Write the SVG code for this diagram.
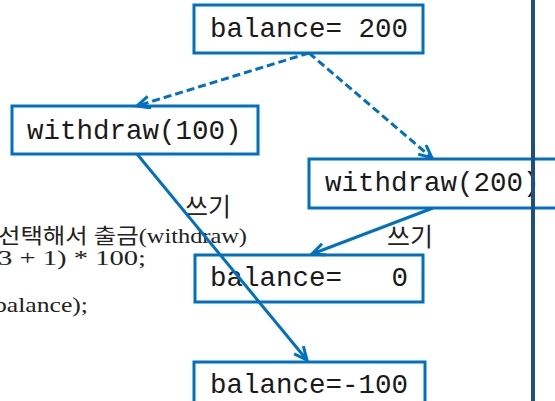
<svg xmlns="http://www.w3.org/2000/svg" width="555" height="401" viewBox="0 0 555 401">
<style>
.box{fill:#fff;stroke:#0070C0;stroke-width:3}
.mono{font-family:"Liberation Mono","Courier New",monospace;font-size:27.5px;fill:#1a1a1a;white-space:pre}
.bg{font-family:"Liberation Serif","Noto Sans CJK KR",serif;font-size:21px;fill:#222}
.lbl{font-family:"Liberation Serif","Noto Sans CJK KR",serif;font-size:25px;fill:#222}
.c{fill:none;stroke:#0070C0;stroke-width:3}
.d{stroke-dasharray:8 4}
</style>
<defs>
<marker id="ah" markerUnits="userSpaceOnUse" markerWidth="18" markerHeight="18" refX="14" refY="7" orient="auto">
<path d="M1,1 L14,7 L1,13" fill="none" stroke="#0070C0" stroke-width="3"/>
</marker>
</defs>
<rect width="555" height="401" fill="#fff"/>
<g id="background-text">
<text class="bg" x="-2" y="243" textLength="249" lengthAdjust="spacingAndGlyphs">선택해서 출금(withdraw)</text>
<text class="bg" x="-2" y="265" textLength="148" lengthAdjust="spacingAndGlyphs">3 + 1) * 100;</text>
<text class="bg" x="-6" y="312" textLength="94" lengthAdjust="spacingAndGlyphs">balance);</text>
</g>
<g id="n-balance200"><rect class="box" x="194" y="5" width="229" height="48"/><text class="mono" x="210" y="37">balance= 200</text></g>
<g id="n-withdraw100"><rect class="box" x="12" y="106" width="246" height="48"/><text class="mono" x="27" y="139">withdraw(100)</text></g>
<g id="n-withdraw200"><rect class="box" x="309" y="159" width="260" height="49"/><text class="mono" x="325" y="191">withdraw(200)</text></g>
<g id="n-balance0"><rect class="box" x="195" y="255" width="228" height="47"/><text class="mono" x="210" y="286" xml:space="preserve">balance=   0</text></g>
<g id="n-balance-100"><rect class="box" x="194" y="362" width="231" height="48"/><text class="mono" x="210" y="393">balance=-100</text></g>
<g id="labels">
<text class="lbl" x="185" y="216">쓰기</text>
<text class="lbl" x="387" y="246">쓰기</text>
</g>
<g id="connectors">
<line class="c d" x1="309" y1="53" x2="137" y2="106" marker-end="url(#ah)"/>
<line class="c d" x1="309" y1="53" x2="432" y2="158" marker-end="url(#ah)"/>
<line class="c" x1="137" y1="154" x2="307" y2="360" marker-end="url(#ah)"/>
<line class="c" x1="433" y1="208" x2="312" y2="254" marker-end="url(#ah)"/>
</g>
<line id="divider" x1="533" y1="0" x2="533" y2="401" stroke="#1F4E84" stroke-width="4"/>
</svg>
